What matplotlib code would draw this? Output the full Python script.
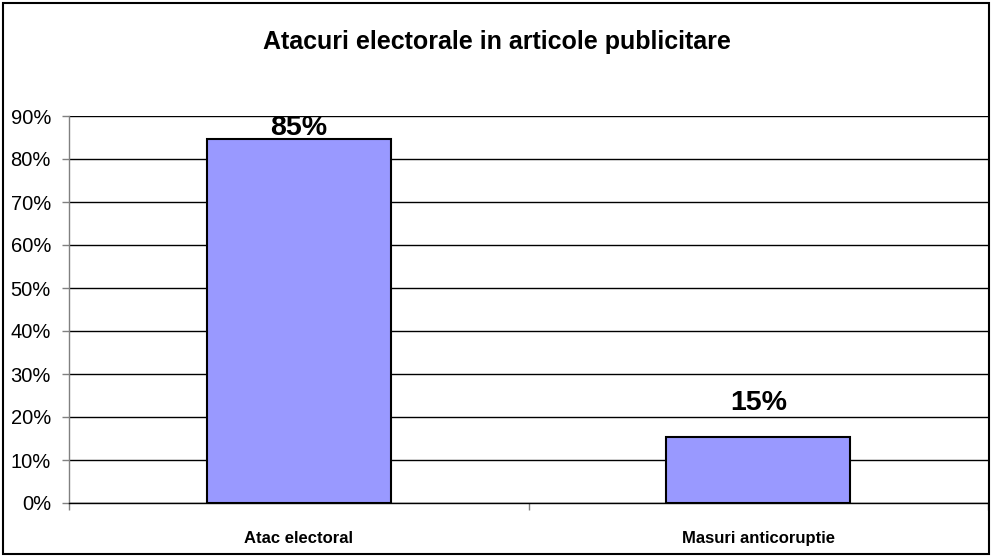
import matplotlib
matplotlib.use("Agg")
import matplotlib.pyplot as plt
from matplotlib.patches import Rectangle

categories = ["Atac electoral", "Masuri anticoruptie"]
values = [0.846, 0.154]
labels = ["85%", "15%"]
yticks = [0, 0.1, 0.2, 0.3, 0.4, 0.5, 0.6, 0.7, 0.8, 0.9]
yticklabels = ["0%", "10%", "20%", "30%", "40%", "50%", "60%", "70%", "80%", "90%"]
title = "Atacuri electorale in articole publicitare"

plt.rcParams['font.family'] = ['Liberation Sans', 'DejaVu Sans']

W, H = 991, 556
fig = plt.figure(figsize=(W / 100, H / 100), dpi=100)
ax = fig.add_axes([69 / W, 1 - 503 / H, (988 - 69) / W, (503 - 116) / H])

x = list(range(len(categories)))
ax.bar(x, values, width=0.4, color="#9999FF", edgecolor="black", linewidth=1.5, zorder=3)
for xi, v, lab in zip(x, values, labels):
    ax.text(xi, min(v + 0.078, 0.872), lab, ha="center", va="center",
            fontsize=20.5, fontweight="bold", zorder=4)

ax.set_xlim(-0.5, 1.5)
ax.set_ylim(0, 0.9)
ax.set_yticks(yticks)
ax.set_yticklabels(yticklabels, fontsize=14.5)
ax.yaxis.grid(True, color="black", linewidth=1.0, zorder=0)
ax.set_axisbelow(True)

ax.set_xticks(x)
ax.set_xticklabels(categories, fontsize=12, fontweight="bold")
ax.set_xticks([-0.5, 0.5, 1.5], minor=True)
ax.tick_params(axis="x", which="major", length=0, pad=20)
ax.tick_params(axis="x", which="minor", length=5, color="gray", width=1)
ax.tick_params(axis="y", length=5, color="gray", width=1, pad=8)

for s in ["top", "right"]:
    ax.spines[s].set_visible(False)
ax.spines["left"].set_color("gray")
ax.spines["left"].set_linewidth(1)
ax.spines["bottom"].set_color("black")
ax.spines["bottom"].set_linewidth(1)

fig.text(497 / W, 1 - 42 / H, title, ha="center", va="center", fontsize=18, fontweight="bold")

fig.patches.append(Rectangle((2.5 / W, 2.5 / H), (988.5 - 2.5) / W, (553 - 2.5) / H,
                             transform=fig.transFigure, fill=False, edgecolor="black",
                             linewidth=1.5))

fig.savefig("out.png", dpi=100)
